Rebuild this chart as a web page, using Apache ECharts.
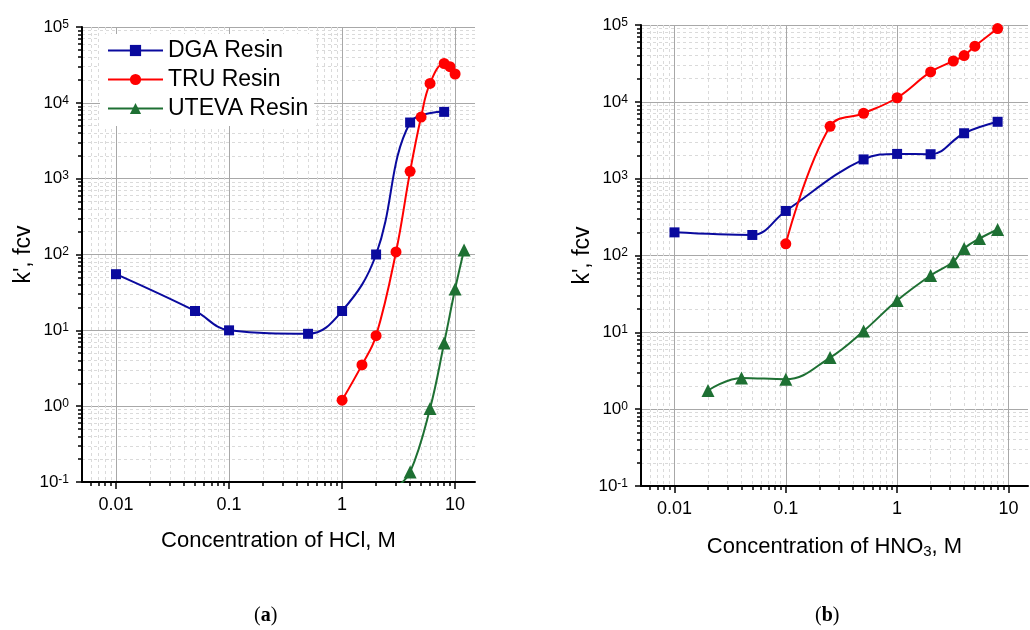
<!DOCTYPE html>
<html>
<head>
<meta charset="utf-8">
<script src="https://cdn.jsdelivr.net/npm/echarts@6/dist/echarts.min.js"></script>
<style>
  html, body { margin: 0; padding: 0; background: #fff; }
  #chart { width: 1030px; height: 630px; }
</style>
</head>
<body>
<div id="chart"></div>
<script>
// panel (a): HCl
const hclDgaX = [0.01, 0.05, 0.1, 0.5, 1, 2, 4, 8]
const hclDgaY = [55, 18, 10, 9, 18, 100, 5500, 7600]
const hclTruX = [1, 1.5, 2, 3, 4, 5, 6, 8, 9, 10]
const hclTruY = [1.2, 3.5, 8.5, 108, 1250, 6500, 18000, 33000, 30000, 24000]
const hclUtevaX = [3, 4, 6, 8, 10, 12]
const hclUtevaY = [0.085, 0.135, 0.93, 6.8, 35, 115]

// panel (b): HNO3
const hno3DgaX = [0.01, 0.05, 0.1, 0.5, 1, 2, 4, 8]
const hno3DgaY = [200, 185, 380, 1780, 2100, 2080, 3900, 5500]
const hno3TruX = [0.1, 0.25, 0.5, 1, 2, 3.2, 4, 5, 8]
const hno3TruY = [142, 4800, 7100, 11300, 24500, 34000, 40000, 53000, 90000]
const hno3UtevaX = [0.02, 0.04, 0.1, 0.25, 0.5, 1, 2, 3.2, 4, 5.5, 8]
const hno3UtevaY = [1.75, 2.55, 2.45, 4.7, 10.4, 26, 55, 83, 123, 166, 218]

const seriesNames = ['DGA Resin', 'TRU Resin', 'UTEVA Resin']
const xTicks = [0.01, 0.1, 1, 10]
const xTitles = ['Concentration of HCl, M', 'Concentration of HNO{sub|3}, M']
const yTitle = "k', fcv"
const panelLabels = ['a', 'b']

const FONT = '"Liberation Sans", Arial, sans-serif'
const colors = ['#0a0a9e', '#ff0000', '#1e7033']
const symbols = ['rect', 'circle', 'triangle']
const symbolSizes = [10, 11, 13]

function pairs(xs, ys) {
  return xs.map((x, i) => [x, ys[i]])
}

const panelData = [
  [pairs(hclDgaX, hclDgaY), pairs(hclTruX, hclTruY), pairs(hclUtevaX, hclUtevaY)],
  [pairs(hno3DgaX, hno3DgaY), pairs(hno3TruX, hno3TruY), pairs(hno3UtevaX, hno3UtevaY)],
]

function xAxisFor(i) {
  return {
    type: 'log',
    gridIndex: i,
    min: 0.005,
    max: 15,
    name: xTitles[i],
    nameLocation: 'middle',
    nameGap: 48,
    nameTextStyle: {
      fontFamily: FONT, fontSize: 22, color: '#000',
      rich: { sub: { fontFamily: FONT, fontSize: 15, color: '#000', verticalAlign: 'bottom', padding: [10, 0, 0, 0] } },
    },
    axisLine: { lineStyle: { color: '#000', width: 2 } },
    axisTick: { length: 7, customValues: xTicks, lineStyle: { color: '#000', width: 1.5 } },
    minorTick: { show: true, splitNumber: 9, length: 4, lineStyle: { color: '#000', width: 1.5 } },
    splitLine: { show: true, lineStyle: { color: '#a8a8a8', width: 1 } },
    minorSplitLine: { show: true, lineStyle: { color: '#dadada', width: 1, type: [3, 3] } },
    axisLabel: {
      customValues: xTicks,
      fontFamily: FONT, fontSize: 18, color: '#000', margin: 14,
      formatter: v => String(v),
    },
  }
}

function yAxisFor(i) {
  return {
    type: 'log',
    gridIndex: i,
    min: 0.1,
    max: 100000,
    name: yTitle,
    nameLocation: 'middle',
    nameGap: 47,
    nameTextStyle: { fontFamily: FONT, fontSize: 23, color: '#000' },
    axisLine: { show: true, lineStyle: { color: '#000', width: 2 } },
    axisTick: { length: 6, lineStyle: { color: '#000', width: 1.5 } },
    minorTick: { show: true, splitNumber: 9, length: 4, lineStyle: { color: '#000', width: 1.5 } },
    splitLine: { show: true, lineStyle: { color: '#a8a8a8', width: 1 } },
    minorSplitLine: { show: true, lineStyle: { color: '#dadada', width: 1, type: [3, 3] } },
    axisLabel: {
      fontFamily: FONT, color: '#000', margin: 13,
      formatter: v => '{b|10}{s|' + Math.round(Math.log10(v)) + '}',
      rich: {
        b: { fontFamily: FONT, fontSize: 17, color: '#000' },
        s: { fontFamily: FONT, fontSize: 12, color: '#000', verticalAlign: 'top' },
      },
    },
  }
}

const series = []
panelData.forEach((sets, p) => {
  sets.forEach((data, k) => {
    series.push({
      name: seriesNames[k],
      type: 'line',
      xAxisIndex: p,
      yAxisIndex: p,
      data: data,
      smooth: 0.4,
      symbol: symbols[k],
      symbolSize: symbolSizes[k],
      showAllSymbol: true,
      clip: true,
      z: 3 + k,
      color: colors[k],
      lineStyle: { color: colors[k], width: 2 },
      itemStyle: { color: colors[k] },
    })
  })
})

const chart = echarts.init(document.getElementById('chart'), null, { renderer: 'canvas' })
chart.setOption({
  animation: false,
  backgroundColor: '#fff',
  grid: [
    { left: 82, top: 27, width: 393, height: 455 },
    { left: 641, top: 25, width: 387, height: 461 },
  ],
  xAxis: [xAxisFor(0), xAxisFor(1)],
  yAxis: [yAxisFor(0), yAxisFor(1)],
  legend: {
    data: seriesNames,
    orient: 'vertical',
    left: 100,
    top: 34,
    padding: [5, 6, 6, 7],
    itemGap: 6,
    itemWidth: 55,
    itemHeight: 14,
    backgroundColor: '#fff',
    textStyle: { fontFamily: FONT, fontSize: 23, color: '#000' },
  },
  graphic: panelLabels.map((t, i) => ({
    type: 'text',
    left: i === 0 ? 254 : 815,
    top: 606,
    style: {
      text: '{n|(}{b|' + t + '}{n|)}',
      rich: {
        n: { fontFamily: '"Liberation Serif", serif', fontSize: 20, fill: '#000' },
        b: { fontFamily: '"Liberation Serif", serif', fontSize: 20, fontWeight: 'bold', fill: '#000' },
      },
    },
  })),
  series: series,
})
</script>
</body>
</html>
